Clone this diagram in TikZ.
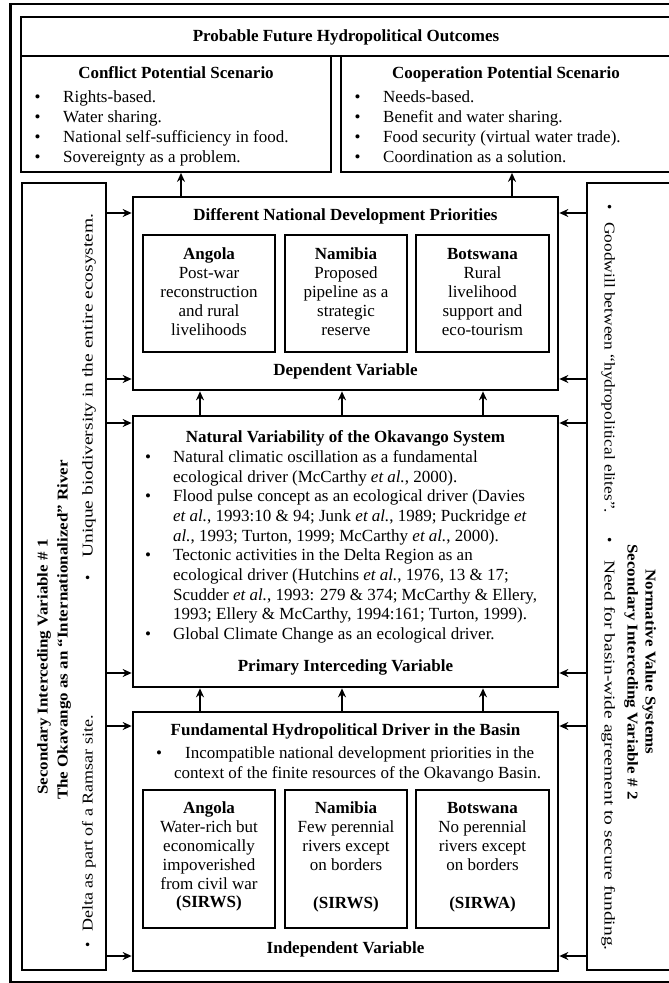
\documentclass[tikz,border=0pt]{standalone}
\usepackage{fontspec}
\setmainfont{Liberation Serif}
\usetikzlibrary{arrows.meta}

\newcounter{tl}
\tikzset{
  frame/.style={draw, line width=1.4pt},
  mainbox/.style={draw, line width=2.7pt},
  sidebox/.style={draw, line width=1.8pt},
  cellbox/.style={draw, line width=1.6pt},
  arr/.style={line width=1.6pt, -{Stealth[length=9pt,width=8pt]}},
  txt/.style={inner sep=0pt, font=\fontsize{17}{19.7}\selectfont},
  hd/.style={inner sep=0pt, font=\fontsize{17}{19.7}\selectfont\bfseries},
  vtxt/.style={inner sep=0pt, font=\fontsize{15}{18}\selectfont},
  vhd/.style={inner sep=0pt, font=\fontsize{15}{18}\selectfont\bfseries},
}

% box node from its corners: name, x1, y1, x2, y2, style
\newcommand\mkbox[6]{%
  \node[#6, inner sep=0pt, minimum width={(#4-#2)*1pt}, minimum height={(#5-#3)*1pt}]
    (#1) at ({(#2+#4)/2},{(#3+#5)/2}) {};}
% one line of text: [style] x y {text}
\newcommand\lineL[4][txt]{\stepcounter{tl}\edef\tlname{tl\arabic{tl}}%
  \node[#1, anchor=base west] (\tlname) at (#2,#3) {#4};}
\newcommand\lineC[4][txt]{\stepcounter{tl}\edef\tlname{tl\arabic{tl}}%
  \node[#1, anchor=base] (\tlname) at (#2,#3) {#4};}
\newcommand\bul[2]{\lineC{#1}{#2}{\textbullet}}
% text stretched along its own baseline
\newcommand\strch[2]{\scalebox{#1}[1]{#2}}

\begin{document}
\begin{tikzpicture}[x=1pt, y=-1pt]
\useasboundingbox (0,0) rectangle (669,983);
\clip (0,0) rectangle (669,983);
\fill[white] (0,0) rectangle (669,983);

% ---------- frames ----------
\mkbox{frm}{11}{4}{686}{982}{frame}
\draw[line width=2.7pt] (frm.north west) -- (frm.south west);
\mkbox{ttl}{21}{17}{676}{56}{sidebox}
\mkbox{conf}{21}{56}{331}{172}{sidebox}
\mkbox{coop}{341}{56}{676}{172}{sidebox}
\mkbox{lbox}{22}{183}{106}{970}{sidebox}
\mkbox{rbox}{587}{183}{676}{970}{sidebox}
\mkbox{dndp}{133}{197}{558}{390}{mainbox}
\mkbox{nv}{133}{416}{558}{687}{mainbox}
\mkbox{fhd}{133}{712}{558}{971}{mainbox}
\mkbox{dA}{143}{235}{275}{352}{cellbox}
\mkbox{dN}{285}{235}{407}{352}{cellbox}
\mkbox{dB}{416}{235}{549}{352}{cellbox}
\mkbox{fA}{143}{790}{275}{928}{cellbox}
\mkbox{fN}{285}{790}{407}{928}{cellbox}
\mkbox{fB}{416}{790}{549}{928}{cellbox}

% ---------- outcomes ----------
\lineC[hd]{346}{41}{Probable Future Hydropolitical Outcomes}
\lineC[hd]{176}{78}{Conflict Potential Scenario}
\bul{37.5}{102}\lineL{63}{102}{Rights-based.}
\bul{37.5}{122}\lineL{63}{122}{Water sharing.}
\bul{37.5}{142}\lineL{63}{142}{National self-sufficiency in food.}
\bul{37.5}{162}\lineL{63}{162}{Sovereignty as a problem.}
\lineC[hd]{506}{78}{Cooperation Potential Scenario}
\bul{357.5}{102}\lineL{383}{102}{Needs-based.}
\bul{357.5}{122}\lineL{383}{122}{Benefit and water sharing.}
\bul{357.5}{142}\lineL{383}{142}{Food security (virtual water trade).}
\bul{357.5}{162}\lineL{383}{162}{Coordination as a solution.}

% ---------- dependent variable ----------
\lineC[hd]{345.5}{220}{Different National Development Priorities}
\lineC[hd]{209}{259}{Angola}
\lineC{209}{278}{Post-war}
\lineC{209}{297}{reconstruction}
\lineC{209}{316}{and rural}
\lineC{209}{335}{livelihoods}
\lineC[hd]{346}{259}{Namibia}
\lineC{346}{278}{Proposed}
\lineC{346}{297}{pipeline as a}
\lineC{346}{316}{strategic}
\lineC{346}{335}{reserve}
\lineC[hd]{482.5}{259}{Botswana}
\lineC{482.5}{278}{Rural}
\lineC{482.5}{297}{livelihood}
\lineC{482.5}{316}{support and}
\lineC{482.5}{335}{eco-tourism}
\lineC[hd]{345.5}{375}{Dependent Variable}

% ---------- primary interceding variable ----------
\lineC[hd]{345.5}{442}{Natural Variability of the Okavango System}
\bul{148}{462}\lineL{173}{462}{Natural climatic oscillation as a fundamental}
\lineL{173}{482}{ecological driver (McCarthy \textit{et al.}, 2000).}
\bul{148}{501}\lineL{173}{501}{Flood pulse concept as an ecological driver (Davies}
\lineL{173}{521}{\textit{et al.}, 1993:10 \& 94; Junk \textit{et al.}, 1989; Puckridge \textit{et}}
\lineL{173}{541}{\textit{al.}, 1993; Turton, 1999; McCarthy \textit{et al.}, 2000).}
\bul{148}{560}\lineL{173}{560}{Tectonic activities in the Delta Region as an}
\lineL{173}{580}{ecological driver (Hutchins \textit{et al.}, 1976, 13 \& 17;}
\lineL{173}{600}{Scudder \textit{et al.}, 1993: 279 \& 374; McCarthy \& Ellery,}
\lineL{173}{619}{1993; Ellery \& McCarthy, 1994:161; Turton, 1999).}
\bul{148}{639}\lineL{173}{639}{Global Climate Change as an ecological driver.}
\lineC[hd]{345.5}{671}{Primary Interceding Variable}

% ---------- independent variable ----------
\lineC[hd]{345.5}{735}{Fundamental Hydropolitical Driver in the Basin}
\bul{159}{758}\lineL{185}{758}{Incompatible national development priorities in the}
\lineL{174}{778}{context of the finite resources of the Okavango Basin.}
\lineC[hd]{209}{813}{Angola}
\lineC{209}{832}{Water-rich but}
\lineC{209}{851}{economically}
\lineC{209}{870}{impoverished}
\lineC{209}{889}{from civil war}
\lineC[hd]{209}{907}{(SIRWS)}
\lineC[hd]{346}{813}{Namibia}
\lineC{346}{832}{Few perennial}
\lineC{346}{851}{rivers except}
\lineC{346}{870}{on borders}
\lineC[hd]{346}{908}{(SIRWS)}
\lineC[hd]{482.5}{813}{Botswana}
\lineC{482.5}{832}{No perennial}
\lineC{482.5}{851}{rivers except}
\lineC{482.5}{870}{on borders}
\lineC[hd]{482.5}{908}{(SIRWA)}
\lineC[hd]{345.5}{953}{Independent Variable}

% ---------- secondary interceding variable # 1 ----------
\node[vhd, rotate=90, anchor=base] (l1) at (47.5,667) {\strch{1.13}{Secondary Interceding Variable \# 1}};
\node[vhd, rotate=90, anchor=base] (l2) at (67.5,630) {\strch{1.13}{The Okavango as an “Internationalized” River}};
\node[vtxt, rotate=90, anchor=base] (lb1) at (92.5,945) {\textbullet};
\node[vtxt, rotate=90, anchor=base west] (lt1) at (92.5,932) {\strch{1.2}{Delta as part of a Ramsar site.}};
\node[vtxt, rotate=90, anchor=base] (lb2) at (92.5,578) {\textbullet};
\node[vtxt, rotate=90, anchor=base west] (lt2) at (92.5,558) {\strch{1.3}{Unique biodiversity in the entire ecosystem.}};

% ---------- secondary interceding variable # 2 ----------
\node[vhd, rotate=-90, anchor=base] (r1) at (627.5,672) {\strch{1.13}{Secondary Interceding Variable \# 2}};
\node[vhd, rotate=-90, anchor=base] (r2) at (645.5,662) {\strch{1.13}{Normative Value Systems}};
\node[vtxt, rotate=-90, anchor=base] (rb1) at (604.5,207) {\textbullet};
\node[vtxt, rotate=-90, anchor=base west] (rt1) at (604.5,222) {\strch{1.16}{Goodwill between “hydropolitical elites”.}};
\node[vtxt, rotate=-90, anchor=base] (rb2) at (604.5,540) {\textbullet};
\node[vtxt, rotate=-90, anchor=base west] (rt2) at (604.5,560) {\strch{1.3}{Need for basin-wide agreement to secure funding.}};

% ---------- connectors ----------
\coordinate (u1) at (181,0);
\coordinate (u2) at (512,0);
\coordinate (v1) at (200,0);
\coordinate (v2) at (342,0);
\coordinate (v3) at (483,0);
\draw[arr] (dndp.north -| u1) -- (conf.south -| u1);
\draw[arr] (dndp.north -| u2) -- (coop.south -| u2);
\foreach \c in {v1,v2,v3}{
  \draw[arr] (nv.north -| \c) -- (dndp.south -| \c);
  \draw[arr] (fhd.north -| \c) -- (nv.south -| \c);
}
\coordinate (h1) at (0,213);
\coordinate (h2) at (0,379);
\coordinate (h3) at (0,423);
\coordinate (h4) at (0,673);
\coordinate (h5) at (0,726);
\coordinate (h6) at (0,956);
\foreach \h/\t in {h1/dndp,h2/dndp,h3/nv,h4/nv,h5/fhd,h6/fhd}{
  \draw[arr] (lbox.east |- \h) -- (\t.west |- \h);
  \draw[arr] (rbox.west |- \h) -- (\t.east |- \h);
}
\end{tikzpicture}
\end{document}
